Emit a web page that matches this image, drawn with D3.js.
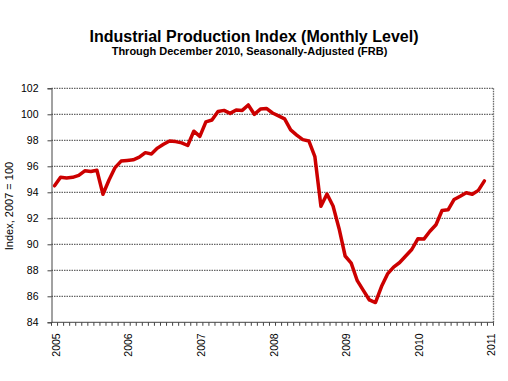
<!DOCTYPE html>
<html>
<head>
<meta charset="utf-8">
<script src="https://cdn.jsdelivr.net/npm/d3@7"></script>
<style>
html,body{margin:0;padding:0;background:#fff;}
svg{display:block;}
text{font-family:Arial,"Liberation Sans",sans-serif;fill:#000;}
</style>
</head>
<body>
<svg id="chart" width="508" height="381"></svg>
<script>
// Monthly Industrial Production Index, Jan 2005 .. Dec 2010 (2007 = 100)
const values = [
  94.5, 95.15, 95.1, 95.15, 95.3, 95.65, 95.6, 95.7, 93.85, 94.95, 95.9, 96.4,
  96.45, 96.5, 96.7, 97.05, 96.95, 97.4, 97.7, 97.95, 97.9, 97.8, 97.6, 98.7,
  98.3, 99.42, 99.56, 100.22, 100.3, 100.07, 100.33, 100.3, 100.72, 100.0, 100.4, 100.45,
  100.1, 99.88, 99.65, 98.8, 98.4, 98.05, 97.95, 96.74, 92.93, 93.87, 92.95, 91.2,
  89.1, 88.55, 87.2, 86.45, 85.72, 85.52, 86.75, 87.72, 88.25, 88.6, 89.1, 89.6,
  90.42, 90.4, 91.0, 91.5, 92.6, 92.65, 93.45, 93.7, 93.97, 93.85, 94.15, 94.88
];
const yearLabels = ["2005", "2006", "2007", "2008", "2009", "2010", "2011"];
const yTicks = [84, 86, 88, 90, 92, 94, 96, 98, 100, 102];
const titleText = "Industrial Production Index (Monthly Level)";
const subtitleText = "Through December 2010,  Seasonally-Adjusted (FRB)";
const yAxisTitle = "Index, 2007 = 100";

const svg = d3.select("#chart");
const L = 51.5, R = 493.5, T = 88.3, B = 322.3;
const nCats = values.length + 1; // includes Jan 2011 category for the last label

const x = d3.scaleLinear().domain([0, nCats]).range([L, R]);
const y = d3.scaleLinear().domain([84, 102]).range([B, T]);

// Gridlines
svg.append("g").selectAll("line")
  .data(yTicks.filter(d => d > 84))
  .join("line")
  .attr("x1", L).attr("x2", R)
  .attr("y1", d => y(d)).attr("y2", d => y(d))
  .attr("stroke", "#666").attr("stroke-width", 1.3)
  .attr("stroke-dasharray", "1.5,1");

// Right border
svg.append("line")
  .attr("x1", R).attr("x2", R).attr("y1", T).attr("y2", B)
  .attr("stroke", "#666").attr("stroke-width", 1.3)
  .attr("stroke-dasharray", "1.5,1");

// Y axis
const yAxis = d3.axisLeft(y).tickValues(yTicks).tickSize(4).tickPadding(9);
const gy = svg.append("g").attr("transform", `translate(${L},0)`).call(yAxis);
gy.select(".domain").attr("stroke", "#444").attr("stroke-width", 1);
gy.selectAll(".tick line").attr("stroke", "#444");
gy.selectAll("text").attr("font-size", "10.5px").attr("font-family", "Arial, 'Liberation Sans', sans-serif");

// X axis: minor ticks at every month boundary
const gx = svg.append("g").attr("transform", `translate(0,${B})`);
gx.append("line").attr("x1", L).attr("x2", R).attr("y1", 0).attr("y2", 0)
  .attr("stroke", "#444").attr("stroke-width", 1);
gx.selectAll("line.tk").data(d3.range(0, nCats + 1)).join("line")
  .attr("class", "tk")
  .attr("x1", d => x(d)).attr("x2", d => x(d))
  .attr("y1", 0).attr("y2", 3.5)
  .attr("stroke", "#444").attr("stroke-width", 1);
gx.selectAll("text").data(yearLabels).join("text")
  .attr("transform", (d, i) => `translate(${x(i * 12 + 0.5) + 1},11) rotate(-90)`)
  .attr("text-anchor", "end")
  .attr("dominant-baseline", "central")
  .attr("font-size", "10.5px")
  .text(d => d);

// Line
const line = d3.line()
  .x((d, i) => x(i + 0.5))
  .y(d => y(d));
svg.append("path")
  .datum(values)
  .attr("d", line)
  .attr("fill", "none")
  .attr("stroke", "#cc0000")
  .attr("stroke-width", 3.5)
  .attr("stroke-linejoin", "round")
  .attr("stroke-linecap", "round");

// Titles
svg.append("text").attr("x", 254).attr("y", 42)
  .attr("text-anchor", "middle").attr("font-size", "16px").attr("font-weight", "bold")
  .text(titleText);
svg.append("text").attr("x", 249.5).attr("y", 54.5)
  .attr("text-anchor", "middle").attr("font-size", "11px").attr("font-weight", "bold")
  .text(subtitleText);

// Y axis title
svg.append("text")
  .attr("transform", `translate(9,206) rotate(-90)`)
  .attr("text-anchor", "middle").attr("dominant-baseline", "central")
  .attr("font-size", "11px")
  .text(yAxisTitle);
</script>
</body>
</html>
